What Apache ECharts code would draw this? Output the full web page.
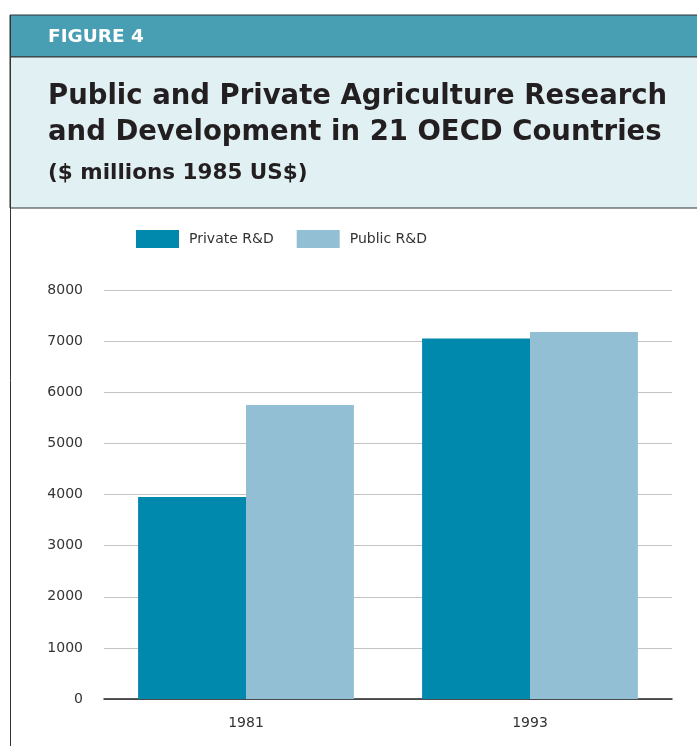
<!DOCTYPE html>
<html>
<head>
<meta charset="utf-8">
<script src="https://cdn.jsdelivr.net/npm/echarts@6/dist/echarts.min.js"></script>
<style>
  html, body { margin: 0; padding: 0; background: #fff; }
  #chart-container { width: 697px; height: 746px; }
</style>
</head>
<body>
<div id="chart-container"></div>
<script>
var years = ['1981', '1993'];
var privateRD = [3950, 7050];
var publicRD = [5750, 7180];
var seriesNames = ['Private R&D', 'Public R&D'];

var font = '"DejaVu Sans", "Open Sans", sans-serif';
var dom = document.getElementById('chart-container');
var myChart = echarts.init(dom, null, { renderer: 'canvas' });

var option = {
    animation: false,
    graphic: [
        // header band and panel
        { type: 'rect', shape: { x: 10, y: 15, width: 700, height: 42 },
          style: { fill: '#489fb4', stroke: '#333', lineWidth: 1 } },
        { type: 'rect', shape: { x: 10, y: 57, width: 700, height: 151 },
          style: { fill: '#e1f0f3', stroke: '#333', lineWidth: 1 } },
        { type: 'line', shape: { x1: 10.5, y1: 15, x2: 10.5, y2: 746 },
          style: { stroke: '#333', lineWidth: 1 } },
        { type: 'text', left: 48, top: 28,
          style: { text: 'FIGURE 4', fill: '#fff', font: 'bold 18.5px ' + font } },
        { type: 'text', left: 48, top: 83,
          style: { text: 'Public and Private Agriculture Research', fill: '#231f20', font: 'bold 27.5px ' + font } },
        { type: 'text', left: 48, top: 119,
          style: { text: 'and Development in 21 OECD Countries', fill: '#231f20', font: 'bold 27.5px ' + font } },
        { type: 'text', left: 48, top: 162,
          style: { text: '($ millions 1985 US$)', fill: '#231f20', font: 'bold 21.5px ' + font } }
    ],
    legend: {
        left: 136,
        top: 230,
        padding: 0,
        itemWidth: 43,
        itemHeight: 18,
        itemGap: 23,
        icon: 'rect',
        data: seriesNames,
        textStyle: { fontFamily: font, fontSize: 14, color: '#333', padding: [0, 0, 0, 5] }
    },
    grid: { left: 104, right: 25, top: 290, bottom: 47 },
    xAxis: {
        type: 'category',
        data: years,
        axisLine: { lineStyle: { color: '#222', width: 1.5 } },
        axisTick: { show: false },
        axisLabel: { fontFamily: font, fontSize: 14, color: '#333', margin: 17 }
    },
    yAxis: {
        type: 'value',
        min: 0,
        max: 8000,
        interval: 1000,
        axisLine: { show: false },
        axisTick: { show: false },
        axisLabel: { fontFamily: font, fontSize: 14, color: '#333', margin: 21,
                     formatter: function (v) { return String(v); } },
        splitLine: { lineStyle: { color: '#c4c4c4', width: 1 } }
    },
    series: [
        {
            name: seriesNames[0],
            type: 'bar',
            data: privateRD,
            barGap: 0,
            barCategoryGap: '24%',
            itemStyle: { color: '#0088ad' }
        },
        {
            name: seriesNames[1],
            type: 'bar',
            data: publicRD,
            barGap: 0,
            barCategoryGap: '24%',
            itemStyle: { color: '#93bfd5' }
        }
    ]
};

myChart.setOption(option);
window.addEventListener('resize', myChart.resize);
</script>
</body>
</html>
